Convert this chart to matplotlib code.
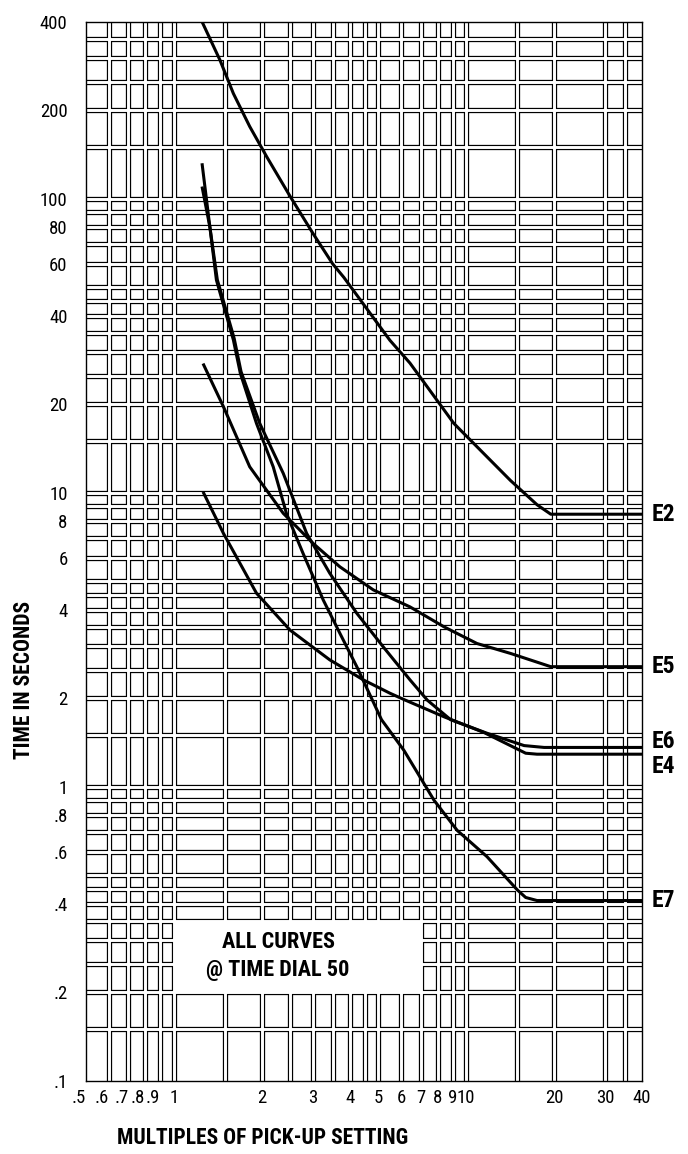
import matplotlib
matplotlib.use("Agg")
import matplotlib.pyplot as plt
from matplotlib.ticker import NullLocator
from matplotlib.patches import Rectangle

# ---------------- data ----------------
x_tick_values = [0.5, 0.6, 0.7, 0.8, 0.9, 1, 2, 3, 4, 5, 6, 7, 8, 9, 10, 20, 30, 40]
x_tick_labels = ['.5', '.6', '.7', '.8', '.9', '1', '2', '3', '4', '5', '6', '7', '8', '9', '10', '20', '30', '40']
y_tick_values = [400, 200, 100, 80, 60, 40, 20, 10, 8, 6, 4, 2, 1, 0.8, 0.6, 0.4, 0.2, 0.1]
y_tick_labels = ['400', '200', '100', '80', '60', '40', '20', '10', '8', '6', '4', '2', '1', '.8', '.6', '.4', '.2', '.1']

x_grid = [0.6, 0.7, 0.8, 0.9, 1, 1.5, 2, 2.5, 3, 3.5, 4, 4.5, 5, 6, 7, 8, 9, 10, 15, 20, 30, 35]
y_grid = [0.15, 0.2, 0.25, 0.3, 0.35, 0.4, 0.45, 0.5, 0.6, 0.7, 0.8, 0.9,
          1, 1.5, 2, 2.5, 3, 3.5, 4, 4.5, 5, 6, 7, 8, 9,
          10, 15, 20, 25, 30, 35, 40, 45, 50, 60, 70, 80, 90,
          100, 150, 200, 250, 300, 350]

E2_x = [1.25, 1.44, 1.60, 1.82, 2.08, 2.50, 3.0, 3.5, 3.82, 5.49, 6.43, 7.08, 9.09, 14.2, 17.5, 19.5, 40]
E2_y = [400, 296, 228, 176, 139, 102, 76, 60, 54, 33, 27.6, 24.2, 17.2, 11.0, 9.1, 8.45, 8.45]

E7_x = [1.25, 1.33, 1.40, 1.60, 1.69, 1.92, 2.19, 2.43, 2.77, 3.25, 3.70, 4.23, 5.14, 6.13, 7.77, 9.33, 11.8, 15.0, 16.0, 17.5, 40]
E7_y = [132, 80, 52.9, 33.1, 25.5, 17.2, 12.25, 8.51, 6.22, 4.31, 3.33, 2.56, 1.69, 1.33, 0.90, 0.71, 0.578, 0.445, 0.42, 0.41, 0.41]

E6_x = [1.25, 1.33, 1.41, 1.61, 1.70, 1.97, 2.37, 2.85, 3.42, 4.23, 5.21, 6.43, 7.37, 8.86, 11.8, 15.8, 18.5, 40]
E6_y = [110, 80, 53, 33.5, 25.8, 17.2, 11.64, 7.27, 5.32, 3.89, 2.99, 2.31, 1.97, 1.69, 1.52, 1.38, 1.36, 1.36]

E4_x = [1.26, 1.48, 1.92, 2.50, 3.42, 4.45, 5.49, 6.2, 8.4, 11.5, 16.0, 17.5, 40]
E4_y = [10.07, 7.27, 4.55, 3.41, 2.70, 2.31, 2.08, 1.97, 1.73, 1.53, 1.30, 1.29, 1.29]

E5_x = [1.26, 1.48, 1.82, 2.37, 3.0, 3.70, 4.82, 6.43, 8.4, 10.9, 14.2, 19.5, 40]
E5_y = [27.5, 19.6, 12.25, 8.51, 6.72, 5.6, 4.67, 4.09, 3.50, 3.07, 2.84, 2.56, 2.56]

curve_names = ['E2', 'E5', 'E6', 'E4', 'E7']
curve_x = [E2_x, E5_x, E6_x, E4_x, E7_x]
curve_y = [E2_y, E5_y, E6_y, E4_y, E7_y]
label_y = [8.45, 2.56, 1.42, 1.17, 0.41]

note_lines = ['ALL CURVES', '@ TIME DIAL 50']
x_title = 'MULTIPLES OF PICK-UP SETTING'
y_title = 'TIME IN SECONDS'

# ---------------- style ----------------
plt.rcParams['font.family'] = ['Roboto Condensed', 'Archivo Narrow', 'Barlow Condensed', 'DejaVu Sans']

W, H = 688, 1154
fig = plt.figure(figsize=(W / 100, H / 100), dpi=100)
left, right, top, bottom = 85.7, 642.0, 21.7, 1080.7
ax = fig.add_axes([left / W, 1 - bottom / H, (right - left) / W, (bottom - top) / H])
ax.set_xscale('log')
ax.set_yscale('log')
ax.set_xlim(0.5, 40)
ax.set_ylim(0.1, 400)

# double-line grid: black first, then white centres
ax.vlines(x_grid, 0.1, 400, colors='black', lw=3.8, zorder=1)
ax.hlines(y_grid, 0.5, 40, colors='black', lw=3.8, zorder=1)
ax.vlines(x_grid, 0.1, 400, colors='white', lw=2.1, zorder=1.2)
ax.hlines(y_grid, 0.5, 40, colors='white', lw=2.1, zorder=1.2)

# blank box for the note
ax.add_patch(Rectangle((1, 0.2), 7 - 1, 0.35 - 0.2, facecolor='white', edgecolor='none', zorder=1.5))

for name, xs, ys, ly in zip(curve_names, curve_x, curve_y, label_y):
    ax.plot(xs, ys, color='black', lw=2.2, solid_capstyle='butt', solid_joinstyle='round', zorder=3)
    ax.annotate(name, xy=(40, ly), xytext=(7, 0), textcoords='offset points',
                ha='left', va='center', fontsize=17, fontweight='bold',
                annotation_clip=False)

ax.xaxis.set_minor_locator(NullLocator())
ax.yaxis.set_minor_locator(NullLocator())
ax.set_xticks(x_tick_values, x_tick_labels)
ax.set_yticks(y_tick_values, y_tick_labels)
ax.tick_params(axis='both', length=0, labelsize=13.5)
ax.tick_params(axis='x', pad=6)
ax.tick_params(axis='y', pad=13)
for lab in ax.get_xticklabels():
    if lab.get_text().startswith('.'):
        lab.set_horizontalalignment('right')

for sp in ax.spines.values():
    sp.set_linewidth(1.0)
    sp.set_color('black')
    sp.set_zorder(4)

fig.text(278 / W, 1 - 941.7 / H, note_lines[0], ha='center', va='center', fontsize=16, fontweight='bold')
fig.text(278 / W, 1 - 970 / H, note_lines[1], ha='center', va='center', fontsize=16, fontweight='bold')
fig.text(263 / W, 1 - 1138 / H, x_title, ha='center', va='center', fontsize=15.5, fontweight='bold')
fig.text(24 / W, 1 - 680 / H, y_title, ha='center', va='center', rotation=90, fontsize=15.5, fontweight='bold')

fig.savefig('out.png', dpi=100, facecolor='white')
